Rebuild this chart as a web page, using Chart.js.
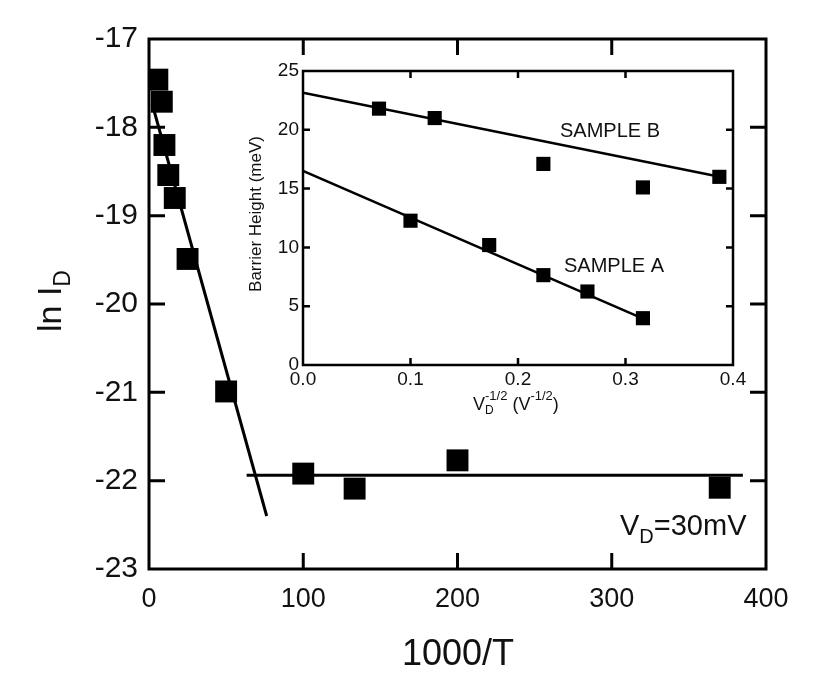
<!DOCTYPE html>
<html>
<head>
<meta charset="utf-8">
<script src="https://cdn.jsdelivr.net/npm/chart.js@4.4.1/dist/chart.umd.min.js"></script>
<style>
  body { margin: 0; background: #fff; }
  #wrap { position: relative; width: 831px; height: 676px; }
  #inset { position: absolute; left: 240px; top: 40px; }
</style>
</head>
<body>
<div id="wrap">
  <canvas id="main" width="831" height="676"></canvas>
  <canvas id="inset" width="520" height="390"></canvas>
</div>
<script>
const FONT = '"Liberation Sans", Arial, sans-serif';

// main plot: ln I_D vs 1000/T
const mainX = [5.4, 8.3, 10, 12.5, 16.7, 25, 50, 100, 133.3, 200, 370];
const mainY = [-17.46, -17.71, -18.2, -18.54, -18.8, -19.49, -20.99, -21.92, -22.09, -21.77, -22.08];
const steepFitX = [2, 76.3];
const steepFitY = [-17.73, -22.4];
const flatFitX = [63.3, 385];
const flatFitY = [-21.94, -21.94];

// inset: barrier height vs V_D^-1/2
const sampleBX = [0.0707, 0.1225, 0.2236, 0.3162, 0.3873];
const sampleBY = [21.8, 21.0, 17.1, 15.1, 16.0];
const sampleAX = [0.1, 0.1732, 0.2236, 0.2646, 0.3162];
const sampleAY = [12.27, 10.2, 7.64, 6.25, 3.98];
const fitBX = [0, 0.3876];
const fitBY = [23.15, 16.0];
const fitAX = [0, 0.319];
const fitAY = [16.5, 3.84];

const pts = (xs, ys) => xs.map((x, i) => ({ x: x, y: ys[i] }));

// draw a run of text pieces (for sub/superscripts)
function richText(ctx, x, y, parts, rot, align) {
  ctx.save();
  ctx.translate(x, y);
  if (rot) ctx.rotate(rot);
  ctx.fillStyle = '#111';
  ctx.textBaseline = 'alphabetic';
  ctx.textAlign = 'left';
  let total = 0;
  parts.forEach(p => {
    ctx.font = p.size + 'px ' + FONT;
    total += p.back ? 0 : ctx.measureText(p.t).width;
  });
  let cx = align === 'center' ? -total / 2 : 0;
  let lastW = 0;
  parts.forEach(p => {
    ctx.font = p.size + 'px ' + FONT;
    if (p.back) cx -= lastW;
    ctx.fillText(p.t, cx, p.dy || 0);
    lastW = ctx.measureText(p.t).width;
    cx += lastW;
  });
  ctx.restore();
}

// box frame plus inward tick marks on all four sides
function frameTicks(len, lw, extra) {
  return {
    id: 'frameTicks',
    afterDraw(chart) {
      const { ctx, chartArea: a } = chart;
      const x = chart.scales.x, y = chart.scales.y;
      ctx.save();
      ctx.strokeStyle = '#000';
      ctx.lineWidth = lw;
      ctx.strokeRect(a.left, a.top, a.right - a.left, a.bottom - a.top);
      ctx.beginPath();
      x.ticks.forEach(t => {
        if (t.value <= x.min || t.value >= x.max) return;
        const px = x.getPixelForValue(t.value);
        ctx.moveTo(px, a.bottom); ctx.lineTo(px, a.bottom - len);
        ctx.moveTo(px, a.top); ctx.lineTo(px, a.top + len);
      });
      y.ticks.forEach(t => {
        if (t.value <= y.min || t.value >= y.max) return;
        const py = y.getPixelForValue(t.value);
        ctx.moveTo(a.left, py); ctx.lineTo(a.left + len, py);
        ctx.moveTo(a.right, py); ctx.lineTo(a.right - len, py);
      });
      ctx.stroke();
      ctx.restore();
      if (extra) extra(ctx);
    }
  };
}

function axis(min, max, step, size, pad, fit, fmt) {
  const ticks = { stepSize: step, padding: pad, color: '#111', maxRotation: 0, autoSkip: false,
                  font: { family: FONT, size: size } };
  if (fmt) ticks.callback = fmt;
  return {
    type: 'linear', min: min, max: max,
    ticks: ticks,
    grid: { display: false, drawTicks: false },
    border: { display: false },
    afterFit: fit
  };
}

new Chart(document.getElementById('main'), {
  type: 'scatter',
  data: {
    datasets: [
      { data: pts(steepFitX, steepFitY), showLine: true, borderColor: '#000', borderWidth: 3, pointRadius: 0 },
      { data: pts(flatFitX, flatFitY), showLine: true, borderColor: '#000', borderWidth: 3, pointRadius: 0 },
      { data: pts(mainX, mainY), pointStyle: 'rect', pointRadius: 15.5, backgroundColor: '#000', borderWidth: 0 }
    ]
  },
  options: {
    responsive: false,
    animation: false,
    layout: { padding: { left: 0, top: 39, right: 65, bottom: 0 } },
    plugins: { legend: { display: false }, tooltip: { enabled: false } },
    scales: {
      x: axis(0, 400, 100, 27, 14, s => { s.height = 107; }),
      y: axis(-23, -17, 1, 30, 11, s => { s.width = 149; })
    }
  },
  plugins: [frameTicks(16, 3, ctx => {
    richText(ctx, 458, 665, [{ t: '1000/T', size: 36 }], 0, 'center');
    richText(ctx, 61, 332, [{ t: 'ln I', size: 34 }, { t: 'D', size: 23, dy: 9 }], -Math.PI / 2);
    richText(ctx, 620, 535, [{ t: 'V', size: 29 }, { t: 'D', size: 20, dy: 8 }, { t: '=30mV', size: 29 }]);
  })]
});

new Chart(document.getElementById('inset'), {
  type: 'scatter',
  data: {
    datasets: [
      { data: pts(fitBX, fitBY), showLine: true, borderColor: '#000', borderWidth: 2.5, pointRadius: 0 },
      { data: pts(fitAX, fitAY), showLine: true, borderColor: '#000', borderWidth: 2.5, pointRadius: 0 },
      { data: pts(sampleBX, sampleBY), pointStyle: 'rect', pointRadius: 10, backgroundColor: '#000', borderWidth: 0 },
      { data: pts(sampleAX, sampleAY), pointStyle: 'rect', pointRadius: 10, backgroundColor: '#000', borderWidth: 0 }
    ]
  },
  options: {
    responsive: false,
    animation: false,
    layout: { padding: { left: 0, top: 31, right: 27, bottom: 0 } },
    plugins: { legend: { display: false }, tooltip: { enabled: false } },
    scales: {
      x: axis(0, 0.4, 0.1, 19, 3, s => { s.height = 65; }, v => v.toFixed(1)),
      y: axis(0, 25, 5, 19, 4, s => { s.width = 63; })
    }
  },
  plugins: [frameTicks(7, 2.5, ctx => {
    richText(ctx, 320, 97, [{ t: 'SAMPLE B', size: 20 }]);
    richText(ctx, 324, 232, [{ t: 'SAMPLE A', size: 20 }]);
    richText(ctx, 21, 174, [{ t: 'Barrier Height (meV)', size: 17 }], -Math.PI / 2, 'center');
    richText(ctx, 233, 370, [
      { t: 'V', size: 18 }, { t: 'D', size: 12, dy: 4 }, { t: '-1/2', size: 13, dy: -10, back: true },
      { t: ' (V', size: 18 }, { t: '-1/2', size: 13, dy: -10 }, { t: ')', size: 18 }
    ]);
  })]
});
</script>
</body>
</html>
